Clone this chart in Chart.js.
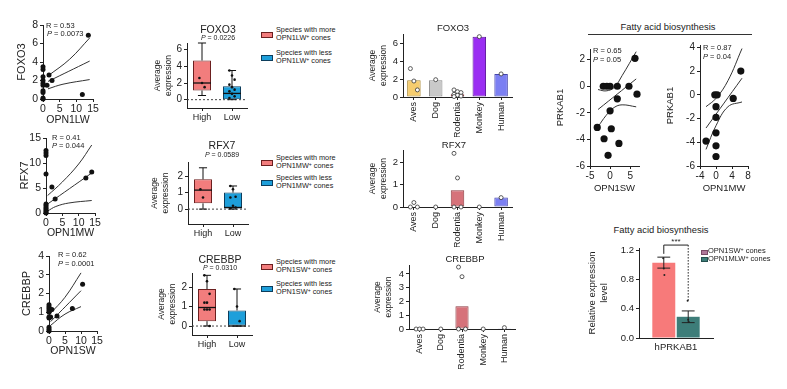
<!DOCTYPE html>
<html>
<head>
<meta charset="utf-8">
<title>Cone opsin expression panels</title>
<script src="https://cdn.jsdelivr.net/npm/chart.js@4.4.1/dist/chart.umd.min.js"></script>
<style>
	html, body { margin: 0; padding: 0; background: #fff; }
	body { position: relative; width: 787px; height: 389px; overflow: hidden; font-family: "Liberation Sans", Arial, sans-serif; color: #222; }
	canvas { position: absolute; }
	.txt { position: absolute; white-space: nowrap; line-height: 1.15; }
	.sw { position: absolute; box-sizing: border-box; border: 1px solid #333; }
	.rule { position: absolute; height: 0; border-top: 1px solid #333; }
	sup { font-size: 70%; vertical-align: 0.35em; line-height: 0; }
</style>
</head>
<body>
<canvas id="lwScatter"></canvas>
<canvas id="mwScatter"></canvas>
<canvas id="swScatter"></canvas>
<canvas id="foxo3Box"></canvas>
<canvas id="rfx7Box"></canvas>
<canvas id="crebbpBox"></canvas>
<canvas id="foxo3Species"></canvas>
<canvas id="rfx7Species"></canvas>
<canvas id="crebbpSpecies"></canvas>
<canvas id="prkSw"></canvas>
<canvas id="prkMw"></canvas>
<canvas id="prkBar"></canvas>
<script>
// ---------- values ----------

// column 1: opsin level (x) vs transcription factor level (y)
const lwFoxo3Pts = [[0,0],[0,0.1],[0,0.7],[0,0.9],[0,1.5],[0,1.7],[0,2.0],[0,2.4],[0,3.2],[0,3.5],[1.2,1.5],[1.8,2.6],[2.7,2.0],[11.8,0.5],[13.6,6.9]];
const lwFoxo3Fit = [[1.5,1.9],[14,4.1]];
const lwFoxo3Hi = [[1.5,2.5],[8,4.3],[14,6.6]];
const lwFoxo3Lo = [[1.5,1.1],[6,1.6],[14,2.1]];

const mwRfx7Pts = [[0,0],[0,0.2],[0,0.5],[0,0.8],[0,1.1],[0,1.5],[0,1.8],[0,7.8],[0,11.5],[0,12],[0,12.5],[1.8,5.2],[2.8,2.8],[12.2,7],[14,8.2]];
const mwRfx7Fit = [[0.5,1.8],[14,8]];
const mwRfx7Hi = [[0.5,3.5],[5,6.2],[10,9.8],[14,13.6]];
const mwRfx7Lo = [[0.5,0.4],[3,1.3],[7,2.0],[14,2.5]];

const swCrebbpPts = [[0,0],[0,0.1],[0,0.2],[0,0.7],[0,0.75],[0,1.0],[0,1.1],[0,1.2],[0,1.3],[0,1.4],[0.9,1.15],[0.5,0.75],[2.5,0.8],[7.3,1.2],[10.5,2.5]];
const swCrebbpFit = [[0.5,0.5],[10,2.15]];
const swCrebbpHi = [[0.5,0.95],[5,1.8],[10,3.1]];
const swCrebbpLo = [[0.5,0.3],[5,0.9],[10,1.3]];

// column 2: box stats as [min, q1, median, q3, max] for High / Low
const groups = ['High', 'Low'];
const foxo3Box = [[0.5,1.1,2.0,4.7,6.8],[0,0,0.75,1.6,3.5]];
const foxo3Dots = [[2.6,2.0,1.5],[3.5,2.9,2.4,1.8,1.5,1.2,1.0,0.7,0.4,0.2]];
const rfx7Box = [[0,0.35,1.15,1.8,2.5],[0,0,0.1,1.0,1.4]];
const rfx7Dots = [[1.2,0.7],[1.4,1.2,0.75,0.7,0.2,0.1,0.05]];
const crebbpBox = [[0,0.25,0.95,1.9,2.6],[0,0,0,0.8,1.9]];
const crebbpDots = [[2.6,2.3,1.65,1.2,1.2,0.85,0.85,0.85,0],[1.9,1.0,0.25]];

// column 3: mean expression per clade plus single observations
const species = ['Aves', 'Dog', 'Rodentia', 'Monkey', 'Human'];
const foxo3Mean = [1.9, 1.9, 0.3, 6.8, 2.6];
const foxo3Obs = [[3.2,1.8,0.8],[1.95],[0.8,0.6,0.5,0.3,0.2,0.1,0.05],[6.8],[2.6]];
const rfx7Mean = [0.02, 0, 0.75, 0, 0.42];
const rfx7Obs = [[0,0.2,0],[0],[2.4,1.3,0,0],[0],[0.42]];
const crebbpMean = [0, 0, 1.65, 0, 0.05];
const crebbpObs = [[0,0,0],[0],[4.5,3.8,0,0],[0],[0.1]];

// column 4: PRKAB1 vs cone opsins
const swPrkPts = [[-3.2,-3.1],[-1.7,0],[-0.8,0],[0,0],[0,-1.85],[-1.5,-3.95],[0.3,-3.2],[-0.5,-5.2],[2.2,-4.3],[1.8,0],[1.8,-0.95],[4.7,0],[6.2,2.1],[6.7,-0.6]];
const swPrkFit = [[-3,-1.75],[6.5,0.55]];
const swPrkHi = [[-3,-0.25],[-1,-0.35],[1,-0.1],[3,0.8],[6.5,2.6]];
const swPrkLo = [[-3,-3.05],[-1,-2.2],[1,-1.6],[3,-1.4],[6.5,-1.55]];

const mwPrkPts = [[-0.3,0],[0.3,0],[0,-1],[0,-1.9],[0,-3.2],[0,-4.3],[0,-5.2],[-2.5,-3.9],[4.3,-0.3],[6.2,2.0]];
const mwPrkFit = [[-2.5,-2.8],[6.5,1.4]];
const mwPrkHi = [[-2.5,-1.0],[0,-0.3],[3,1.2],[6.5,3.9]];
const mwPrkLo = [[-2.5,-4.6],[0,-2.6],[3,-1.0],[6.5,-0.6]];

const coneTypes = ['OPN1SW⁺ cones', 'OPN1MLW⁺ cones'];
const prkMean = [1.03, 0.29];
const prkSem = [0.075, 0.08];
const prkReps = [[1.09,0.95,0.86],[0.51,0.25,0.22]];

// ---------- styling ----------
const INK = '#222';
const FAM = '"Liberation Sans", Arial, sans-serif';
const font = (size, style) => ({ family: FAM, size, style: style || 'normal', lineHeight: 1.2 });
const HIGH_FILL = '#f27d7d', HIGH_EDGE = '#6b1f1f';
const LOW_FILL = '#1e9fda', LOW_EDGE = '#0d3d5c';
const SPECIES_FILL = ['#f6cd6e', '#c9c9c9', '#d6727a', '#9a2ef2', '#7b7ff2'];
const SPECIES_EDGE = ['#a8852f', '#8a8a8a', '#8c3a40', '#5a1598', '#4444aa'];
const CONE_FILL = ['#f77a7a', '#3d7d79'];

Chart.defaults.font.family = FAM;
Chart.defaults.color = INK;

// place a canvas so that its chart area lands on the given page rectangle
function frame(id, area, yw, xh) {
	const m = { l: 4, t: 10, r: 14, b: 2 };
	const cv = document.getElementById(id);
	const x = Math.round(area.l - yw - m.l), y = Math.round(area.t - m.t);
	const w = Math.round(area.r + m.r - x), h = Math.round(area.b + xh + m.b - y);
	cv.width = w; cv.height = h;
	cv.style.left = x + 'px'; cv.style.top = y + 'px';
	cv.style.width = w + 'px'; cv.style.height = h + 'px';
	return { left: area.l - yw - x, top: area.t - y, right: x + w - area.r, bottom: y + h - area.b - xh };
}

function axisLines() {
	return {
		border: { display: true, color: INK, width: 1 },
		grid: { drawOnChartArea: false, drawTicks: true, tickLength: 3, color: INK, lineWidth: 1 }
	};
}

function yLinear(min, max, ticks, yw, title, titleSize, tickSize, fmt) {
	return Object.assign(axisLines(), {
		type: 'linear', position: 'left', min, max,
		afterBuildTicks: s => { s.ticks = ticks.map(v => ({ value: v })); },
		afterFit: s => { s.width = yw; },
		ticks: { color: INK, font: font(tickSize), padding: 2, callback: fmt || (v => String(v)) },
		title: { display: !!title, text: title, color: INK, font: font(titleSize), padding: 0 }
	});
}

function xLinear(min, max, ticks, xh, title, titleSize, tickSize) {
	return Object.assign(axisLines(), {
		type: 'linear', position: 'bottom', min, max,
		afterBuildTicks: s => { s.ticks = ticks.map(v => ({ value: v })); },
		afterFit: s => { s.height = xh; },
		ticks: { color: INK, font: font(tickSize), padding: 1, minRotation: 0, maxRotation: 0, autoSkip: false, callback: v => String(v) },
		title: { display: !!title, text: title, color: INK, font: font(titleSize), padding: 0 }
	});
}

function xCategory(xh, tickSize, rotate) {
	const a = axisLines();
	a.grid.offset = false;
	return Object.assign(a, {
		type: 'category', position: 'bottom',
		afterFit: s => { s.height = xh; },
		ticks: rotate
			? { color: INK, font: font(tickSize), padding: 2, minRotation: 90, maxRotation: 90, autoSkip: false }
			: { color: INK, font: font(tickSize), padding: 1, minRotation: 0, maxRotation: 0, autoSkip: false }
	});
}

const baseOptions = pad => ({
	responsive: false,
	animation: false,
	layout: { padding: pad },
	plugins: { legend: { display: false }, tooltip: { enabled: false } }
});

const toXY = pts => pts.map(([x, y]) => ({ x, y }));

// ---------- plugins ----------
const boxWhisker = {
	id: 'boxWhisker',
	beforeDatasetsDraw(chart) {
		const { ctx, chartArea: a, scales: { y } } = chart;
		const y0 = y.getPixelForValue(0);
		ctx.save();
		ctx.setLineDash([2, 2]);
		ctx.strokeStyle = '#444';
		ctx.lineWidth = 1;
		ctx.beginPath(); ctx.moveTo(a.left, y0); ctx.lineTo(a.right, y0); ctx.stroke();
		ctx.restore();
	},
	afterDatasetsDraw(chart, args, opts) {
		const { ctx, scales: { y } } = chart;
		const meta = chart.getDatasetMeta(0);
		ctx.save();
		ctx.strokeStyle = '#111';
		opts.stats.forEach((s, i) => {
			const bar = meta.data[i];
			const cx = bar.x, half = bar.width / 2, cap = half * 0.45;
			const [lo, q1, med, q3, hi] = s.map(v => y.getPixelForValue(v));
			ctx.lineWidth = 1;
			ctx.beginPath();
			ctx.moveTo(cx, q3); ctx.lineTo(cx, hi);
			ctx.moveTo(cx - cap, hi); ctx.lineTo(cx + cap, hi);
			ctx.moveTo(cx, q1); ctx.lineTo(cx, lo);
			ctx.moveTo(cx - cap, lo); ctx.lineTo(cx + cap, lo);
			ctx.stroke();
			ctx.lineWidth = 1.3;
			ctx.beginPath(); ctx.moveTo(cx - half, med); ctx.lineTo(cx + half, med); ctx.stroke();
		});
		ctx.restore();
	}
};

// individual observations drawn over the bar of their group
const obsDots = {
	id: 'obsDots',
	afterDatasetsDraw(chart, args, o) {
		const { ctx, scales: { y } } = chart;
		ctx.save();
		ctx.lineWidth = o.lineWidth || 0;
		ctx.fillStyle = o.fill;
		ctx.strokeStyle = o.stroke || o.fill;
		o.values.forEach((vals, i) => {
			const bar = o.perDataset ? chart.getDatasetMeta(i).data[0] : chart.getDatasetMeta(0).data[i];
			vals.forEach((v, k) => {
				const dx = vals.length > 1 ? ((k % 3) - 1) * o.step : 0;
				ctx.beginPath();
				ctx.arc(bar.x + dx, y.getPixelForValue(v), o.radius, 0, Math.PI * 2);
				ctx.fill();
				if (o.lineWidth) ctx.stroke();
			});
		});
		ctx.restore();
	}
};

const sigBracket = {
	id: 'sigBracket',
	afterDatasetsDraw(chart, args, opts) {
		const { ctx, scales: { y } } = chart;
		const bars = [chart.getDatasetMeta(0).data[0], chart.getDatasetMeta(1).data[0]];
		ctx.save();
		ctx.strokeStyle = INK;
		ctx.lineWidth = 1;
		// mean +/- sem
		bars.forEach((b, i) => {
			const top = y.getPixelForValue(opts.mean[i] + opts.err[i]);
			const bot = y.getPixelForValue(opts.mean[i] - opts.err[i]);
			const w = b.width * 0.28;
			ctx.beginPath();
			ctx.moveTo(b.x, top); ctx.lineTo(b.x, bot);
			ctx.moveTo(b.x - w, top); ctx.lineTo(b.x + w, top);
			ctx.moveTo(b.x - w, bot); ctx.lineTo(b.x + w, bot);
			ctx.stroke();
		});
		const yb = y.getPixelForValue(opts.level);
		ctx.beginPath();
		ctx.moveTo(bars[0].x, y.getPixelForValue(opts.leftEnd));
		ctx.lineTo(bars[0].x, yb);
		ctx.lineTo(bars[1].x, yb);
		ctx.stroke();
		ctx.setLineDash([1.5, 1.5]);
		ctx.beginPath();
		ctx.moveTo(bars[1].x, yb);
		ctx.lineTo(bars[1].x, y.getPixelForValue(opts.rightEnd));
		ctx.stroke();
		ctx.setLineDash([]);
		ctx.fillStyle = INK;
		ctx.font = `8px ${FAM}`;
		ctx.textAlign = 'center';
		ctx.textBaseline = 'bottom';
		ctx.fillText(opts.mark, (bars[0].x + bars[1].x) / 2, yb + 1);
		ctx.restore();
	}
};

// ---------- panel builders ----------
function scatterPanel(id, area, o) {
	const pad = frame(id, area, o.yw, o.xh);
	const band = pts => ({
		type: 'line', data: toXY(pts), borderColor: '#333', borderWidth: 1,
		pointRadius: 0, tension: 0.4, fill: false, order: 2
	});
	new Chart(document.getElementById(id), {
		type: 'scatter',
		data: {
			datasets: [
				{ data: toXY(o.pts), backgroundColor: '#111', borderColor: '#111', borderWidth: 0, pointRadius: o.r, clip: false, order: 1 },
				band(o.fit), band(o.hi), band(o.lo)
			]
		},
		options: Object.assign(baseOptions(pad), {
			scales: {
				x: xLinear(o.x[0], o.x[1], o.xTicks, o.xh, o.xTitle, o.xTitleSize, o.tickSize),
				y: yLinear(o.y[0], o.y[1], o.yTicks, o.yw, o.yTitle, o.yTitleSize, o.tickSize)
			}
		})
	});
}

function boxPanel(id, area, o) {
	const pad = frame(id, area, o.yw, o.xh);
	new Chart(document.getElementById(id), {
		type: 'bar',
		data: {
			labels: groups,
			datasets: [{
				data: o.box.map(s => [s[1], s[3]]),
				backgroundColor: [HIGH_FILL, LOW_FILL], borderColor: [HIGH_EDGE, LOW_EDGE],
				borderWidth: 1, borderSkipped: false, barPercentage: 0.6, categoryPercentage: 1
			}]
		},
		options: Object.assign(baseOptions(pad), {
			plugins: {
				legend: { display: false }, tooltip: { enabled: false },
				boxWhisker: { stats: o.box },
				obsDots: { values: o.dots, radius: 1.3, fill: '#111', step: 2.6 }
			},
			scales: {
				x: xCategory(o.xh, 9, false),
				y: yLinear(o.y[0], o.y[1], o.yTicks, o.yw, ['Average', 'expression'], 8.5, 10)
			}
		}),
		plugins: [boxWhisker, obsDots]
	});
}

function speciesPanel(id, area, o) {
	const pad = frame(id, area, o.yw, o.xh);
	new Chart(document.getElementById(id), {
		type: 'bar',
		data: {
			labels: species,
			datasets: [{
				data: o.mean, backgroundColor: SPECIES_FILL, borderColor: SPECIES_EDGE,
				borderWidth: 1, borderSkipped: false, barPercentage: 0.62, categoryPercentage: 1
			}]
		},
		options: Object.assign(baseOptions(pad), {
			plugins: {
				legend: { display: false }, tooltip: { enabled: false },
				obsDots: { values: o.obs, radius: 2, fill: '#fff', stroke: '#333', lineWidth: 0.8, step: 3.5 }
			},
			scales: {
				x: xCategory(o.xh, 9, true),
				y: yLinear(0, o.yMax, o.yTicks, o.yw, ['Average', 'expression'], 8.5, 9.5)
			}
		}),
		plugins: [obsDots]
	});
}

// ---------- column 1 ----------
scatterPanel('lwScatter', { l: 43, t: 25, r: 93, b: 99 }, {
	pts: lwFoxo3Pts, fit: lwFoxo3Fit, hi: lwFoxo3Hi, lo: lwFoxo3Lo, r: 2.5,
	x: [0, 15], xTicks: [0, 5, 10, 15], y: [0, 8], yTicks: [0, 2, 4, 6, 8],
	xTitle: 'OPN1LW', yTitle: 'FOXO3', xTitleSize: 10.5, yTitleSize: 11, tickSize: 10.5, yw: 27.5, xh: 27
});
scatterPanel('mwScatter', { l: 46, t: 138, r: 95, b: 213 }, {
	pts: mwRfx7Pts, fit: mwRfx7Fit, hi: mwRfx7Hi, lo: mwRfx7Lo, r: 2.5,
	x: [0, 15], xTicks: [0, 5, 10, 15], y: [0, 15], yTicks: [0, 5, 10, 15],
	xTitle: 'OPN1MW', yTitle: 'RFX7', xTitleSize: 10.5, yTitleSize: 11, tickSize: 10.5, yw: 27.5, xh: 26
});
scatterPanel('swScatter', { l: 49, t: 256, r: 97, b: 331 }, {
	pts: swCrebbpPts, fit: swCrebbpFit, hi: swCrebbpHi, lo: swCrebbpLo, r: 2.5,
	x: [0, 15], xTicks: [0, 5, 10, 15], y: [0, 4], yTicks: [0, 1, 2, 3, 4],
	xTitle: 'OPN1SW', yTitle: 'CREBBP', xTitleSize: 10.5, yTitleSize: 11, tickSize: 10.5, yw: 28.5, xh: 26
});

// ---------- column 2 ----------
boxPanel('foxo3Box', { l: 187, t: 43, r: 247, b: 108 }, { box: foxo3Box, dots: foxo3Dots, y: [-1, 6.8], yTicks: [0, 2, 4, 6], yw: 34, xh: 16 });
boxPanel('rfx7Box', { l: 188, t: 162, r: 248, b: 224 }, { box: rfx7Box, dots: rfx7Dots, y: [-0.9, 2.85], yTicks: [0, 1, 2], yw: 38, xh: 16 });
boxPanel('crebbpBox', { l: 192, t: 273, r: 252, b: 335 }, { box: crebbpBox, dots: crebbpDots, y: [-0.46, 2.72], yTicks: [0, 1, 2], yw: 35, xh: 16 });

// ---------- column 3 ----------
speciesPanel('foxo3Species', { l: 403, t: 34, r: 512, b: 97 }, { mean: foxo3Mean, obs: foxo3Obs, yMax: 7.1, yTicks: [0, 2, 4, 6], yw: 35, xh: 40 });
speciesPanel('rfx7Species', { l: 403, t: 150, r: 512, b: 207 }, { mean: rfx7Mean, obs: rfx7Obs, yMax: 2.55, yTicks: [0, 1, 2], yw: 35, xh: 40 });
speciesPanel('crebbpSpecies', { l: 409, t: 265, r: 515, b: 329 }, { mean: crebbpMean, obs: crebbpObs, yMax: 4.65, yTicks: [0, 1, 2, 3, 4], yw: 36, xh: 40 });

// ---------- column 4 ----------
scatterPanel('prkSw', { l: 590, t: 49, r: 639, b: 166 }, {
	pts: swPrkPts, fit: swPrkFit, hi: swPrkHi, lo: swPrkLo, r: 3.6,
	x: [-5, 7.2], xTicks: [-5, 0, 5], y: [-6, 2.8], yTicks: [-6, -4, -2, 0, 2],
	xTitle: 'OPN1SW', yTitle: 'PRKAB1', xTitleSize: 9.5, yTitleSize: 9.5, tickSize: 10, yw: 35, xh: 28
});
scatterPanel('prkMw', { l: 700, t: 45, r: 748, b: 166 }, {
	pts: mwPrkPts, fit: mwPrkFit, hi: mwPrkHi, lo: mwPrkLo, r: 3.6,
	x: [-4, 8], xTicks: [-4, 0, 4, 8], y: [-6, 4.2], yTicks: [-6, -4, -2, 0, 2, 4],
	xTitle: 'OPN1MW', yTitle: 'PRKAB1', xTitleSize: 9.5, yTitleSize: 9.5, tickSize: 10, yw: 35, xh: 28
});

(function prkBarPanel() {
	const area = { l: 639, t: 248, r: 713, b: 338 };
	const pad = frame('prkBar', area, 52, 16);
	const bar = i => ({
		label: coneTypes[i], data: [prkMean[i]], backgroundColor: CONE_FILL[i], borderWidth: 0,
		barPercentage: 0.94, categoryPercentage: 0.66
	});
	const x = xCategory(16, 9.5, false);
	x.grid.drawTicks = false;
	x.ticks.padding = 4;
	new Chart(document.getElementById('prkBar'), {
		type: 'bar',
		data: { labels: ['hPRKAB1'], datasets: [bar(0), bar(1)] },
		options: Object.assign(baseOptions(pad), {
			plugins: {
				legend: { display: false }, tooltip: { enabled: false },
				obsDots: { values: prkReps, perDataset: true, radius: 1, fill: '#222', step: 0.6 },
				sigBracket: { mean: prkMean, err: prkSem, level: 1.27, leftEnd: 1.15, rightEnd: 0.5, mark: '***' }
			},
			scales: {
				x,
				y: yLinear(0, 1.23, [0, 0.4, 0.8, 1.2], 52, ['Relative expression', 'level'], 9.5, 9.5, v => v.toFixed(1))
			}
		}),
		plugins: [obsDots, sigBracket]
	});
})();

// ---------- html text ----------
function note(html, x, y, size, anchor) {
	const d = document.createElement('div');
	d.className = 'txt';
	d.innerHTML = html;
	d.style.left = x + 'px';
	d.style.top = y + 'px';
	d.style.fontSize = size + 'px';
	d.style.transform = anchor === 'left' ? 'translate(0,-50%)' : 'translate(-50%,-50%)';
	document.body.appendChild(d);
}

function swatch(x, y, w, h, fill, edge) {
	const d = document.createElement('div');
	d.className = 'sw';
	Object.assign(d.style, { left: x + 'px', top: (y - h / 2) + 'px', width: w + 'px', height: h + 'px', background: fill, borderColor: edge });
	document.body.appendChild(d);
}

// regression stats
note('R = 0.53', 46, 26, 7.5, 'left');
note('<i>P</i> = 0.0073', 47, 34, 7.5, 'left');
note('R = 0.41', 52, 138, 7.5, 'left');
note('<i>P</i> = 0.044', 52, 146, 7.5, 'left');
note('R = 0.62', 58, 255, 7.5, 'left');
note('<i>P</i> = 0.0001', 58, 264, 7.5, 'left');

// box plot titles
note('FOXO3', 218, 29, 10.5);
note('<i>P</i> = 0.0226', 218, 38, 7);
note('RFX7', 222, 145, 10.5);
note('<i>P</i> = 0.0589', 222, 155, 7);
note('CREBBP', 220, 259, 10.5);
note('<i>P</i> = 0.0310', 220, 268, 7);

// box plot legends
const legendRows = [
	{ y: 34, more: true, op: 'OPN1LW' }, { y: 57, more: false, op: 'OPN1LW' },
	{ y: 162, more: true, op: 'OPN1MW' }, { y: 182, more: false, op: 'OPN1MW' },
	{ y: 266, more: true, op: 'OPN1SW' }, { y: 288, more: false, op: 'OPN1SW' }
];
legendRows.forEach(r => {
	swatch(261, r.y + 1, 12, 6, r.more ? HIGH_FILL : LOW_FILL, r.more ? HIGH_EDGE : LOW_EDGE);
	note(`Species with ${r.more ? 'more' : 'less'}<br>${r.op}<sup>+</sup> cones`, 276, r.y, 7.3, 'left');
});

// species bar titles
note('FOXO3', 453, 28, 9.5);
note('RFX7', 454, 145, 9.5);
note('CREBBP', 465, 259, 9.5);

// column 4 text
note('Fatty acid biosynthesis', 668, 27, 9.4);
(function () {
	const d = document.createElement('div');
	d.className = 'rule';
	Object.assign(d.style, { left: '588px', top: '34px', width: '164px' });
	document.body.appendChild(d);
})();
note('R = 0.65', 593, 51, 7.5, 'left');
note('<i>P</i> = 0.05', 593, 60, 7.5, 'left');
note('R = 0.87', 703, 48, 7.5, 'left');
note('<i>P</i> = 0.04', 703, 57, 7.5, 'left');

note('Fatty acid biosynthesis', 661, 230, 9.4);
swatch(701, 252, 7, 5, '#b0789a', '#7a4a66');
swatch(701, 259, 7, 5, CONE_FILL[1], '#24504e');
note('OPN1SW<sup>+</sup> cones', 708, 251, 7.5, 'left');
note('OPN1MLW<sup>+</sup> cones', 708, 259, 7.5, 'left');
</script>
</body>
</html>
